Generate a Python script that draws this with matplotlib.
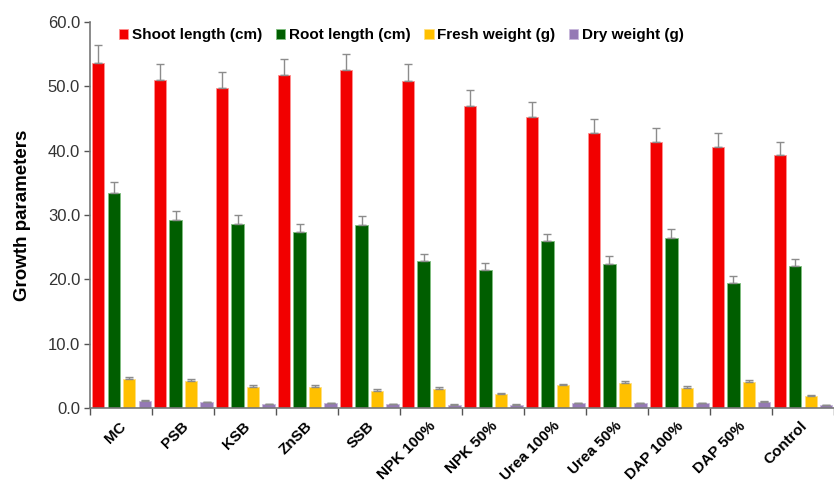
import numpy as np
import matplotlib.pyplot as plt

plt.rcParams['font.family'] = ['Liberation Sans', 'DejaVu Sans']

treatments = ['MC', 'PSB', 'KSB', 'ZnSB', 'SSB', 'NPK 100%', 'NPK 50%',
              'Urea 100%', 'Urea 50%', 'DAP 100%', 'DAP 50%', 'Control']

shoot = [53.7, 51.0, 49.8, 51.7, 52.5, 50.8, 46.9, 45.2, 42.8, 41.4, 40.6, 39.3]
shoot_err = [2.8, 2.5, 2.5, 2.6, 2.6, 2.6, 2.5, 2.3, 2.1, 2.2, 2.2, 2.1]
root = [33.4, 29.2, 28.6, 27.3, 28.4, 22.9, 21.5, 25.9, 22.4, 26.5, 19.5, 22.1]
root_err = [1.7, 1.5, 1.4, 1.3, 1.4, 1.1, 1.1, 1.2, 1.3, 1.4, 1.0, 1.0]
fresh = [4.5, 4.2, 3.3, 3.3, 2.7, 3.0, 2.2, 3.5, 3.9, 3.1, 4.1, 1.9]
fresh_err = [0.3, 0.3, 0.3, 0.3, 0.2, 0.2, 0.15, 0.25, 0.3, 0.25, 0.3, 0.15]
dry = [1.1, 0.9, 0.6, 0.7, 0.6, 0.5, 0.5, 0.7, 0.7, 0.7, 1.0, 0.4]
dry_err = [0.1, 0.1, 0.08, 0.08, 0.08, 0.07, 0.07, 0.08, 0.08, 0.08, 0.1, 0.06]

series = [
    ('Shoot length (cm)', shoot, shoot_err, '#f20000', '#ff9090'),
    ('Root length (cm)', root, root_err, '#005e00', '#7fbf7f'),
    ('Fresh weight (g)', fresh, fresh_err, '#ffc000', '#ffe080'),
    ('Dry weight (g)', dry, dry_err, '#9579b5', '#c8b8dc'),
]

fig = plt.figure(figsize=(8.34, 4.86), dpi=100)
ax = fig.add_axes([0.1085, 0.1605, 0.8915, 0.7942])

x = np.arange(len(treatments))
w = 0.2
offsets = [-0.375, -0.125, 0.125, 0.375]
for (label, vals, errs, col, edge), off in zip(series, offsets):
    ax.bar(x + off, vals, w, color=col, edgecolor=edge, linewidth=0.6,
           label=label, zorder=2)
    ax.errorbar(x + off, vals, yerr=[np.zeros(len(errs)), errs], fmt='none',
                ecolor='#8c8c8c', elinewidth=1.0, capsize=3, capthick=1.0,
                zorder=3)
    ax.errorbar(x + off, vals, yerr=[errs, np.zeros(len(errs))], fmt='none',
                ecolor='#8c8c8c', elinewidth=1.0, capsize=3, capthick=1.0,
                zorder=1.9)

ax.set_xlim(-0.5, 11.36)
ax.set_ylim(0, 60)
ax.set_yticks(np.arange(0, 61, 10))
ax.set_yticklabels([f'{v:.1f}' for v in np.arange(0, 61, 10)],
                   fontsize=12, color='#333333')

# group separators as x ticks, labels centred under each group
ax.set_xticks(np.arange(-0.5, 11.6, 1.0))
ax.set_xticklabels([])
ax.set_xticks(x - 0.04, minor=True)
ax.set_xticklabels(treatments, minor=True, rotation=45, ha='right',
                   rotation_mode='anchor', fontsize=11, fontweight='bold')
ax.tick_params(axis='x', which='minor', length=0, pad=8)
ax.tick_params(axis='x', which='major', length=5, color='#555555', width=1)
ax.tick_params(axis='y', length=4, color='#555555', width=1)

for s in ['top', 'right']:
    ax.spines[s].set_visible(False)
for s in ['left', 'bottom']:
    ax.spines[s].set_color('#777777')
    ax.spines[s].set_linewidth(1.2)

ax.set_ylabel('Growth parameters', fontsize=13.5, fontweight='bold', labelpad=12)

ax.legend(loc='upper left', bbox_to_anchor=(0.02, 1.02), ncol=4, frameon=False,
          prop={'weight': 'bold', 'size': 11}, handlelength=0.6,
          handleheight=0.6, handletextpad=0.25, columnspacing=0.9)

fig.savefig('out.png', dpi=100)
